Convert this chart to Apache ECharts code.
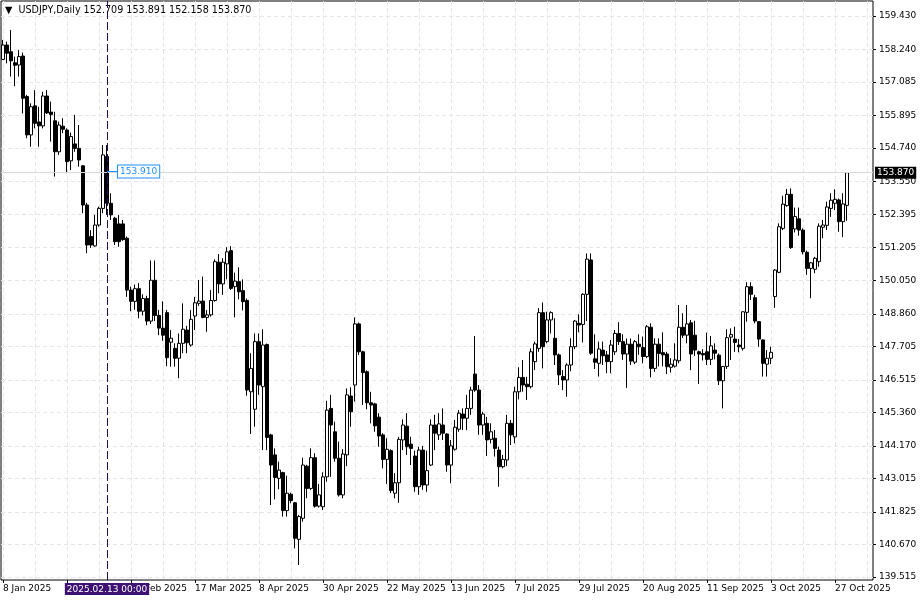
<!DOCTYPE html>
<html><head><meta charset="utf-8">
<script src="https://cdn.jsdelivr.net/npm/echarts@6/dist/echarts.min.js"></script>
<style>html,body{margin:0;padding:0;background:#fff}#c{width:920px;height:600px}</style>
</head><body><div id="c"></div>
<script>
// ---------- data ----------
const symbolName = 'USDJPY,Daily';
const firstDate = '2025-01-08';
const slotCount = 218;               // weekday slots on the time axis (incl. empty right margin)
const opens = [
157.89,158.40,158.16,157.77,157.69,158.01,156.57,155.21,156.24,155.67,
155.53,156.59,156.02,155.71,154.61,155.52,155.38,154.29,154.89,154.73,
154.11,152.72,151.60,151.27,152.01,152.60,154.44,152.78,152.25,152.05,
152.05,151.54,149.70,149.30,149.75,148.95,149.40,148.60,150.05,148.80,
148.35,148.90,147.85,147.63,147.28,147.81,148.28,147.75,148.78,149.23,
149.31,148.73,148.82,149.33,150.69,149.92,150.63,151.10,149.82,150.00,
149.68,149.33,146.09,145.47,147.87,146.27,147.77,144.56,143.85,143.02,
143.22,141.87,142.45,142.15,140.85,141.60,143.45,142.66,143.75,142.03,
142.01,143.07,145.50,144.67,143.73,142.43,143.85,145.94,146.33,148.50,
147.51,146.80,145.70,145.66,145.19,144.56,143.69,144.00,142.49,142.86,
144.38,144.87,144.23,143.81,142.72,144.02,142.78,143.49,144.91,144.56,
144.91,144.59,143.49,144.05,144.76,145.30,145.15,145.50,146.72,146.15,
144.91,144.97,144.40,144.44,144.02,143.43,143.67,144.97,144.49,146.09,
146.60,146.36,146.27,147.16,147.63,148.90,147.87,148.64,147.99,147.40,
146.63,146.51,147.04,147.69,148.52,148.48,149.55,150.77,147.26,147.10,
147.57,147.40,147.16,147.51,148.16,147.87,147.43,147.78,147.14,147.78,
147.66,147.34,148.38,146.92,147.78,147.48,147.43,146.96,147.00,147.19,
148.38,148.10,148.54,148.10,147.51,147.45,147.51,147.24,147.57,147.39,
146.48,146.99,148.03,147.96,147.75,147.63,148.91,149.82,149.43,148.58,
147.93,147.07,147.28,149.47,150.33,151.89,152.70,153.10,151.87,152.23,
151.83,151.04,150.47,150.44,150.71,151.93,152.00,152.60,152.78,152.90,
152.13,152.709];
const highs = [
158.58,158.52,158.93,157.99,158.22,158.13,156.63,156.33,156.80,156.21,
156.74,156.80,156.39,156.03,155.68,155.80,155.44,155.29,155.92,155.56,
154.14,152.80,151.83,152.37,152.66,154.85,154.85,153.14,152.30,152.37,
152.19,151.60,149.82,149.90,149.95,149.55,149.50,150.75,150.75,149.00,
149.30,149.00,148.28,147.81,148.16,149.23,148.43,148.99,149.46,150.06,
150.18,148.99,149.70,150.79,150.98,150.83,151.22,151.26,150.32,150.51,
150.08,149.40,147.46,148.16,148.16,148.31,147.80,144.60,144.08,143.61,
143.25,143.11,142.51,142.18,141.72,143.75,143.50,144.08,143.91,142.82,
143.23,145.77,145.98,145.03,144.32,144.05,146.21,146.25,148.73,148.55,
147.55,146.85,146.09,145.70,145.33,144.62,144.44,144.05,143.20,144.49,
145.11,145.33,144.49,144.00,144.14,144.17,144.00,145.11,145.27,145.33,
145.50,144.62,144.38,145.09,145.44,145.50,145.98,146.27,148.07,146.33,
145.38,145.20,144.97,144.73,144.14,143.85,145.27,145.09,146.27,146.96,
147.22,146.62,147.63,147.87,149.06,149.26,148.93,148.95,148.70,147.45,
146.86,147.10,147.99,148.64,148.84,149.59,151.00,151.00,148.13,147.87,
147.87,147.54,147.93,148.28,148.56,148.13,147.98,147.98,147.93,148.13,
148.05,148.46,148.52,147.99,147.99,148.20,147.51,147.28,147.81,149.17,
148.88,149.17,148.64,148.61,147.55,147.60,148.19,148.07,147.81,147.45,
147.00,148.31,148.34,148.40,147.96,148.95,149.98,149.98,149.53,148.60,
147.95,147.57,147.69,150.45,152.07,153.05,153.29,153.31,152.63,152.63,
151.89,151.10,150.70,150.88,152.07,152.19,152.84,153.14,153.28,152.95,
153.14,153.891];
const lows = [
157.87,157.75,157.28,156.94,157.28,155.97,155.09,154.79,155.44,154.79,
155.44,155.95,154.97,153.73,154.50,155.27,153.85,153.96,154.61,154.08,
152.43,151.01,151.20,151.24,151.95,152.43,152.37,152.19,151.30,151.24,
151.45,149.46,148.95,149.00,148.70,148.80,148.45,148.50,148.60,148.10,
147.90,147.00,146.98,146.98,146.57,147.46,147.46,147.69,148.28,149.14,
148.70,148.22,148.76,149.29,149.59,149.53,150.08,149.70,148.73,149.37,
148.98,145.95,144.59,144.85,145.98,144.02,144.02,142.07,142.27,142.63,
141.66,141.66,142.13,140.53,139.94,141.48,142.31,142.60,141.98,141.98,
141.89,142.90,143.07,143.61,142.37,142.31,143.45,144.85,145.74,147.40,
145.62,145.47,144.97,144.67,144.14,143.37,142.82,142.49,142.31,142.15,
144.02,143.85,143.49,142.54,142.43,142.61,142.54,143.45,144.02,144.38,
144.38,143.25,142.84,144.00,144.67,144.73,144.73,145.27,146.09,144.56,
144.56,143.81,144.26,143.79,142.72,143.37,143.45,144.20,144.26,145.82,
146.09,145.80,146.21,146.86,147.51,146.92,147.81,148.16,147.04,146.33,
146.15,145.91,146.82,147.60,148.20,147.84,148.60,147.40,146.90,146.63,
147.04,146.75,146.75,147.40,147.75,147.22,146.23,147.04,147.07,147.40,
147.10,147.28,146.60,146.80,146.99,146.99,146.72,146.77,146.95,147.10,
148.00,147.81,146.86,147.36,146.37,147.20,147.04,147.04,147.24,146.33,
145.50,146.90,147.22,147.51,147.49,147.55,148.58,149.35,148.52,147.69,
146.63,146.63,147.07,149.07,150.30,151.83,152.66,151.16,151.75,151.63,
150.97,150.24,149.41,150.30,150.53,151.54,151.83,152.30,152.54,151.77,
151.58,152.158];
const closes = [
158.40,158.11,157.84,157.68,157.99,156.51,155.21,156.21,155.62,155.53,
156.59,155.99,155.93,154.61,155.56,155.41,154.26,155.15,154.73,154.32,
152.72,151.30,151.30,152.01,152.60,154.50,152.78,152.37,151.42,151.42,
151.49,149.70,149.30,149.75,148.95,149.40,148.60,150.05,148.80,148.35,
148.10,147.30,147.99,147.28,147.81,148.31,147.83,148.66,149.25,149.31,
148.73,148.82,149.33,150.71,149.92,150.69,151.06,149.76,150.02,149.64,
149.29,146.15,146.92,147.87,146.33,147.75,144.47,143.49,143.05,143.31,
141.87,142.49,142.23,140.89,141.66,143.49,142.66,143.75,142.03,142.43,
143.07,145.44,144.91,143.73,142.43,143.88,145.98,145.38,148.50,147.51,
146.77,145.70,145.62,144.88,144.52,143.69,144.05,142.58,142.86,144.40,
144.91,144.14,144.08,142.72,144.02,142.78,143.29,144.91,144.62,144.95,
144.62,143.49,144.17,144.83,145.33,145.15,145.50,146.15,146.15,144.91,
145.30,144.38,144.67,144.08,143.43,143.69,144.97,144.56,146.09,146.60,
146.33,146.27,147.51,147.79,148.90,147.69,148.64,148.90,147.40,146.69,
146.51,147.04,147.69,148.60,148.46,149.55,150.80,147.46,147.14,147.61,
147.37,147.16,147.75,148.16,147.87,147.43,147.78,147.18,147.87,147.69,
147.34,148.40,146.92,147.78,147.45,147.40,146.98,147.07,147.22,148.38,
148.10,148.50,147.43,147.57,147.43,147.40,147.24,147.72,147.46,146.48,
146.99,148.01,148.12,147.84,147.69,148.93,149.82,149.55,148.60,147.96,
147.10,147.28,147.49,150.41,151.95,152.75,153.10,151.21,152.31,151.83,
151.06,150.47,150.67,150.83,151.97,152.01,152.65,152.89,152.92,152.13,
152.76,153.870];
const yTickValues = [159.430,158.240,157.085,155.895,154.740,153.550,152.395,151.205,150.050,
  148.860,147.705,146.515,145.360,144.170,143.015,141.825,140.670,139.515];
const yMin = 139.408, yMax = 159.963;
const crosshairDate = '2025-02-13';
const crosshairTimeLabel = '2025.02.13 00:00';
const crosshairPrice = 153.910;

// ---------- build ----------
const months = ['Jan','Feb','Mar','Apr','May','Jun','Jul','Aug','Sep','Oct','Nov','Dec'];
const dates = [];
{
  const d = new Date(firstDate + 'T00:00:00Z');
  while (dates.length < slotCount) {
    const wd = d.getUTCDay();
    if (wd !== 0 && wd !== 6) dates.push(d.toISOString().slice(0, 10));
    d.setUTCDate(d.getUTCDate() + 1);
  }
}
function fmtDate(s) {
  const p = s.split('-');
  return (+p[2]) + ' ' + months[+p[1] - 1] + ' ' + p[0];
}
const candles = opens.map((o, i) => [o, closes[i], lows[i], highs[i]]);
const last = opens.length - 1;
const FONT = 'DejaVu Sans';

const chart = echarts.init(document.getElementById('c'), null, {renderer: 'canvas'});
chart.setOption({
  animation: false,
  backgroundColor: '#ffffff',
  title: {
    left: 5, top: 5, padding: 0,
    text: '▼  ' + symbolName + ' ' + [opens[last], highs[last], lows[last], closes[last]].map(v => v.toFixed(3)).join(' '),
    textStyle: {fontFamily: FONT, fontSize: 9.6, fontWeight: 'normal', color: '#000'}
  },
  grid: {left: 1, top: 1, width: 872, height: 579, show: true, borderColor: '#000', borderWidth: 1, backgroundColor: '#fff'},
  xAxis: {
    type: 'category', data: dates, boundaryGap: true,
    axisLine: {show: false},
    axisTick: {show: true, interval: 15, alignWithLabel: true, length: 3, lineStyle: {color: '#000'}},
    axisLabel: {interval: 15, align: 'left', margin: 4, fontFamily: FONT, fontSize: 9, color: '#000',
      formatter: v => fmtDate(v)},
    splitLine: {show: true, interval: 7, alignWithLabel: true, lineStyle: {color: '#e6e6e6', type: [4, 3], width: 1}}
  },
  yAxis: {
    type: 'value', position: 'right', min: yMin, max: yMax, scale: true,
    axisLine: {show: false},
    axisTick: {show: true, length: 3, customValues: yTickValues, lineStyle: {color: '#000'}},
    axisLabel: {customValues: yTickValues, margin: 6, fontFamily: FONT, fontSize: 9, color: '#000',
      formatter: v => v.toFixed(3)},
    splitLine: {show: true, lineStyle: {color: '#e6e6e6', type: [4, 3], width: 1}}
  },
  series: [{
    type: 'candlestick',
    data: candles,
    barWidth: 3,
    itemStyle: {color: '#ffffff', color0: '#000000', borderColor: '#000000', borderColor0: '#000000', borderWidth: 1},
    emphasis: {disabled: true},
    markLine: {
      silent: true, symbol: ['none', 'none'], animation: false, z: 10,
      data: [
        {yAxis: closes[last],
         lineStyle: {color: '#d8d8d8', type: 'solid', width: 1},
         label: {show: true, position: 'end', distance: 2, formatter: p => p.value.toFixed(3),
           fontFamily: FONT, fontSize: 9, color: '#fff', backgroundColor: '#000', padding: [2, 2, 1, 2]}},
        {xAxis: crosshairDate,
         lineStyle: {color: '#2b0d4f', type: [8, 3], width: 1},
         label: {show: true, position: 'start', distance: 3, formatter: crosshairTimeLabel,
           fontFamily: FONT, fontSize: 9, color: '#fff', backgroundColor: '#3d1273', padding: [2, 2, 1, 2]}}
      ]
    },
    markPoint: {
      silent: true, animation: false, z: 10,
      data: [{
        coord: [crosshairDate, crosshairPrice],
        symbol: 'rect', symbolSize: [11, 1], symbolOffset: [5.5, 0],
        itemStyle: {color: '#1e90ff'},
        label: {show: true, position: 'right', distance: 0, formatter: crosshairPrice.toFixed(3),
          fontFamily: FONT, fontSize: 9, color: '#1e90ff', backgroundColor: '#fff',
          borderColor: '#1e90ff', borderWidth: 1, padding: [2, 2, 1, 2]}
      }]
    }
  }]
});
</script></body></html>
